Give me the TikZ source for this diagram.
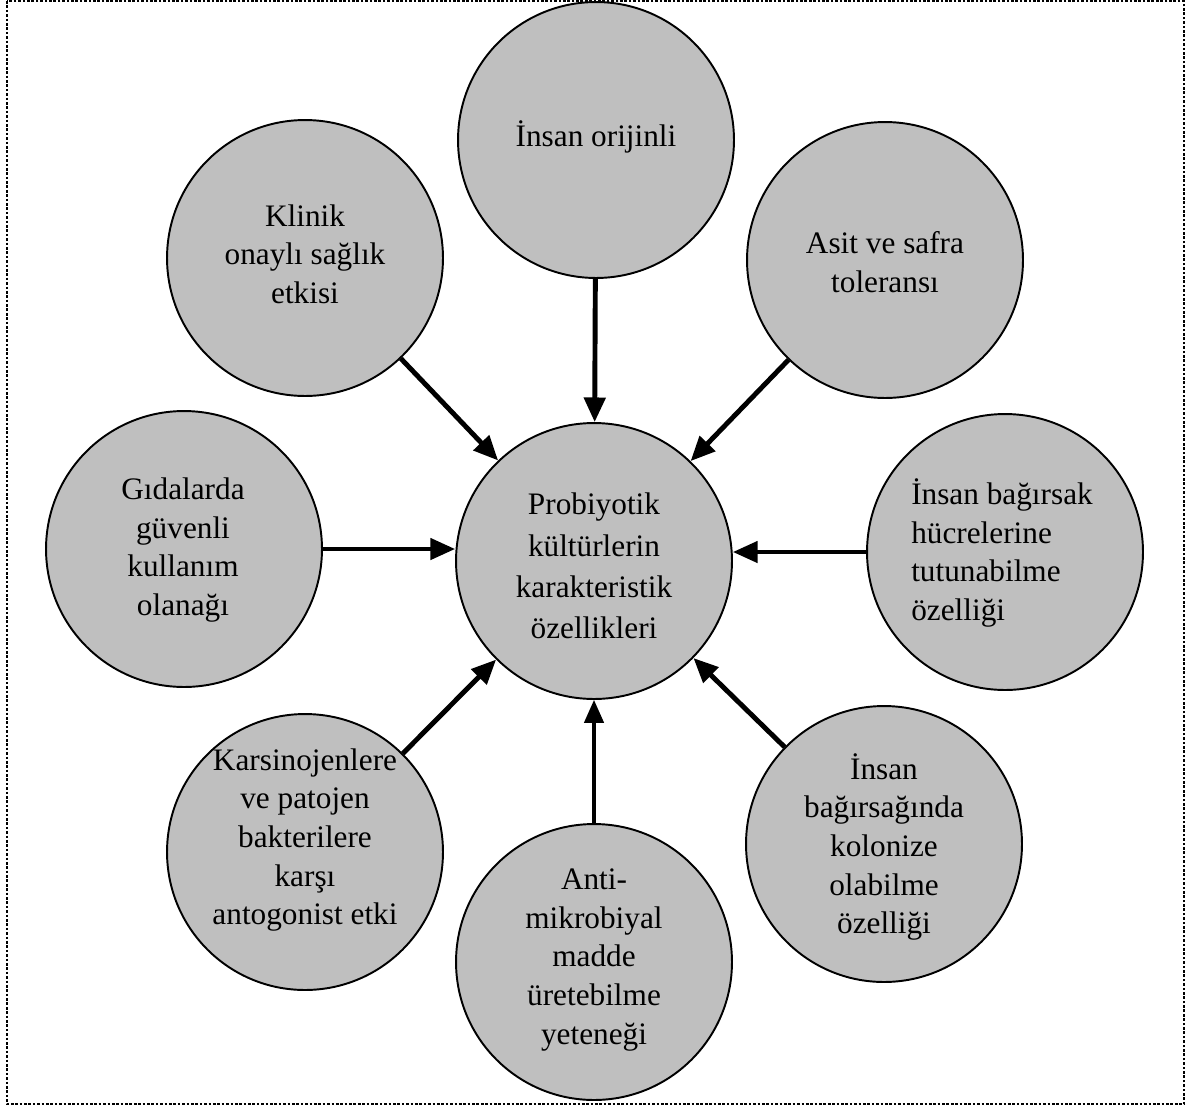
\documentclass[tikz,border=0pt]{standalone}
\usepackage{fontspec}
\setmainfont{Liberation Serif}
\usetikzlibrary{arrows.meta}
\tikzset{
  bubble/.style={circle, draw=black, line width=1.1pt, fill=black!25,
    minimum size=5.52cm, inner sep=0pt},
  txt/.style={inner sep=0pt, align=center, font=\fontsize{17.8}{22}\selectfont},
  feed/.style={line width=2.8pt, -{Triangle[length=14pt,width=12pt]}},
  feedthin/.style={line width=1.8pt, -{Triangle[length=13pt,width=11pt]}},
  frame/.style={line width=0.8pt, dash pattern=on 1.5pt off 1pt}
}
\begin{document}
\begin{tikzpicture}[x=0.02cm, y=-0.02cm]
\useasboundingbox (0,0) rectangle (1186,1106);
\draw[frame] (7,1) rectangle (1184,1104);

\node[bubble] (C)  at (594,561) {};
\node[bubble] (T)  at (596,140) {};
\node[bubble] (TL) at (305,258) {};
\node[bubble] (TR) at (885,260) {};
\node[bubble] (L)  at (184,549) {};
\node[bubble] (R)  at (1005,552) {};
\node[bubble] (BL) at (305,852) {};
\node[bubble] (B)  at (594,962) {};
\node[bubble] (BR) at (884,844) {};

\node[txt, font=\fontsize{17.8}{23.5}\selectfont] (Ct) at (594,566) {Probiyotik\\kültürlerin\\karakteristik\\özellikleri};
\node[txt] (Tt)  at (596,137) {İnsan orijinli};
\node[txt] (TLt) at (305,254) {Klinik\\onaylı sağlık\\etkisi};
\node[txt] (TRt) at (885,262) {Asit ve safra\\toleransı};
\node[txt] (Lt)  at (183,550) {Gıdalarda\\güvenli\\kullanım\\olanağı};
\node[txt, align=left] (Rt) at (1002,553) {İnsan bağırsak\\hücrelerine\\tutunabilme\\özelliği};
\node[txt] (BLt) at (305,840) {Karsinojenlere\\ve patojen\\bakterilere\\karşı\\antogonist etki};
\node[txt] (Bt)  at (594,960) {Anti-\\mikrobiyal\\madde\\üretebilme\\yeteneği};
\node[txt] (BRt) at (884,847) {İnsan\\bağırsağında\\kolonize\\olabilme\\özelliği};

\draw[feed] (T) -- (C);
\draw[feed] (TL) -- (C);
\draw[feed] (TR) -- (C);
\draw[feed, line width=2.3pt] (L.east) -- (L.east -| C.west);
\draw[feed, line width=2.3pt] (R.west) -- (R.west -| C.east);
\draw[feed] (BL) -- (C);
\draw[feed] (BR) -- (C);
\draw[feedthin] (B) -- (C);
\end{tikzpicture}
\end{document}
